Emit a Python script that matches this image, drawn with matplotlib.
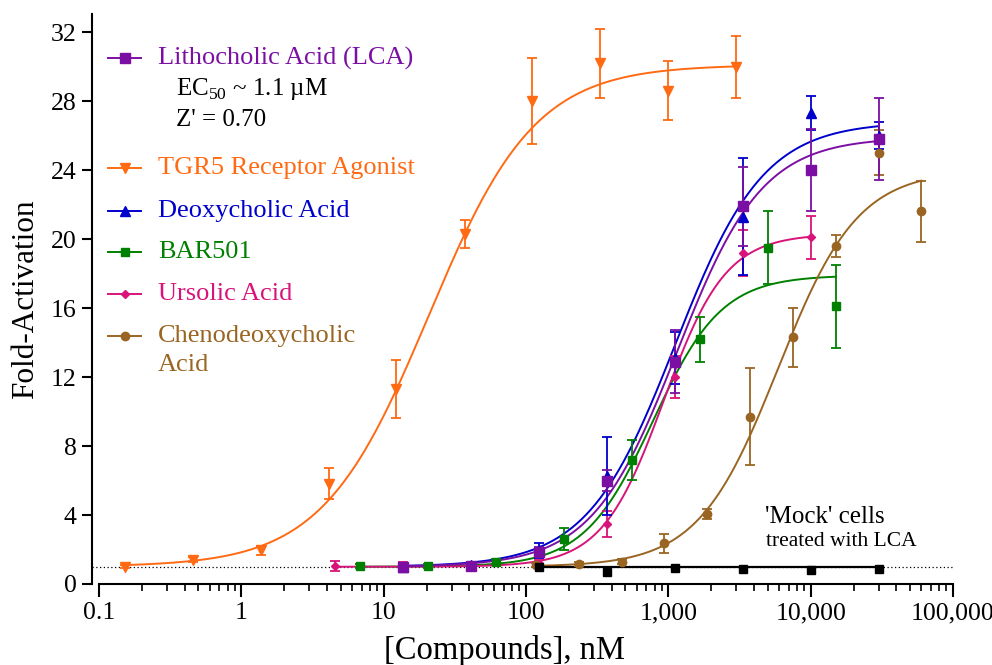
#!/usr/bin/env python3
"""Dose-response curves of bile acids and TGR5 agonists (fold activation vs concentration)."""

import numpy as np
import matplotlib
matplotlib.use('Agg')
import matplotlib.pyplot as plt
from matplotlib.lines import Line2D
from matplotlib.ticker import FixedLocator, NullFormatter

plt.rcParams['font.family'] = ['Liberation Serif', 'DejaVu Serif']
plt.rcParams['mathtext.fontset'] = 'custom'
plt.rcParams['mathtext.rm'] = 'Liberation Serif'

# ---- data ----
conc_tgr5 = [0.152, 0.457, 1.37, 4.12, 12.3, 37.0, 111, 333, 1000, 3000]
fa_tgr5 = [1.0, 1.4, 1.95, 5.8, 11.3, 20.3, 28.0, 30.2, 28.6, 30.0]
err_tgr5 = [0.1, 0.15, 0.25, 0.9, 1.7, 0.8, 2.5, 2.0, 1.7, 1.8]

conc_lca = [13.7, 41.2, 123, 370, 1111, 3333, 10000, 30000]
fa_lca = [1.0, 1.05, 1.85, 6.0, 12.9, 21.9, 24.0, 25.8]
err_lca = [0.15, 0.1, 0.3, 0.6, 1.8, 2.3, 2.4, 2.4]

conc_dca = [13.7, 41.2, 123, 370, 1111, 3333, 10000, 30000]
fa_dca = [1.0, 1.1, 1.95, 6.25, 13.1, 21.3, 27.3, 26.0]
err_dca = [0.1, 0.1, 0.45, 2.25, 1.5, 3.4, 1.0, 0.8]

conc_bar = [6.86, 20.6, 61.7, 185, 556, 1667, 5000, 15000]
fa_bar = [1.05, 1.05, 1.3, 2.6, 7.2, 14.2, 19.5, 16.1]
err_bar = [0.1, 0.1, 0.15, 0.65, 1.15, 1.3, 2.1, 2.4]

conc_urs = [4.57, 13.7, 41.2, 123, 370, 1111, 3333, 10000]
fa_urs = [1.05, 1.1, 1.0, 1.2, 3.5, 12.0, 19.2, 20.1]
err_urs = [0.3, 0.2, 0.1, 0.2, 0.75, 1.2, 1.35, 1.25]

conc_cdca = [117, 234, 469, 938, 1875, 3750, 7500, 15000, 30000, 60000]
fa_cdca = [1.1, 1.15, 1.3, 2.35, 4.05, 9.7, 14.3, 19.6, 25.0, 21.6]
err_cdca = [0.1, 0.1, 0.15, 0.55, 0.3, 2.8, 1.7, 0.65, 1.3, 1.75]

conc_mock = [123, 370, 1111, 3333, 10000, 30000]
fa_mock = [1.0, 0.7, 0.93, 0.87, 0.82, 0.87]
err_mock = [0.05, 0.05, 0.05, 0.12, 0.15, 0.05]
mock_level = 0.97

# four-parameter logistic fits (bottom, top, EC50 nM, Hill slope)
fit_tgr5 = (1.0, 30.1, 20.7, 1.16)
fit_lca = (1.0, 25.9, 1150, 1.45)
fit_dca = (1.0, 26.8, 1120, 1.40)
fit_bar = (1.0, 17.9, 780, 1.80)
fit_urs = (1.0, 20.3, 930, 2.00)
fit_cdca = (1.0, 24.0, 5900, 1.55)

colors = {
    'lca': '#7C0FA3',
    'tgr5': '#FF6A13',
    'dca': '#0000CC',
    'bar': '#008000',
    'urs': '#D8137A',
    'cdca': '#9A6522',
}


def hill(x, bottom, top, ec50, h):
    return bottom + (top - bottom) / (1 + (ec50 / x) ** h)


W, H = 992.0, 665.0
fig = plt.figure(figsize=(9.92, 6.65), dpi=100)
ax = fig.add_axes([92 / W, 81 / H, 861 / W, 570 / H])

# baseline at fold = 1
ax.axhline(1.0, color='black', lw=0.9, ls=(0, (1, 2)), zorder=1)

series = [
    ('tgr5', conc_tgr5, fa_tgr5, err_tgr5, fit_tgr5, 'v', 6.5),
    ('bar', conc_bar, fa_bar, err_bar, fit_bar, 's', 6),
    ('urs', conc_urs, fa_urs, err_urs, fit_urs, 'D', 4.5),
    ('cdca', conc_cdca, fa_cdca, err_cdca, fit_cdca, 'o', 6),
    ('dca', conc_dca, fa_dca, err_dca, fit_dca, '^', 6.5),
    ('lca', conc_lca, fa_lca, err_lca, fit_lca, 's', 6.5),
]

for key, xs, ys, es, fit, mk, ms in series:
    c = colors[key]
    xfit = np.logspace(np.log10(xs[0]), np.log10(xs[-1]), 300)
    ax.plot(xfit, hill(xfit, *fit), color=c, lw=1.4, zorder=3)
    ax.errorbar(xs, ys, yerr=es, fmt=mk, color=c, ms=ms, capsize=3.5,
                elinewidth=1.3, capthick=1.3, zorder=4)

# mock cells treated with LCA
ax.plot([conc_mock[0], conc_mock[-1]], [mock_level, mock_level], color='black', lw=1.6, zorder=3)
ax.errorbar(conc_mock, fa_mock, yerr=err_mock, fmt='s', color='black', ecolor=colors['lca'],
            ms=6, capsize=3, elinewidth=1.2, capthick=1.2, zorder=5)

ax.set_xscale('log')
ax.set_xlim(0.0893, 1e5)
ax.set_ylim(0, 33.05)

ax.spines['top'].set_visible(False)
ax.spines['right'].set_visible(False)
ax.spines['bottom'].set_bounds(0.1, 1e5)
ax.spines['left'].set_bounds(0, 33.05)
for s in ('left', 'bottom'):
    ax.spines[s].set_linewidth(1.5)

xticks = [0.1, 1, 10, 100, 1000, 10000, 100000]
xticklabels = ['0.1', '1', '10', '100', '1,000', '10,000', '100,000']
ax.set_xticks(xticks)
ax.set_xticklabels(xticklabels)
minors = [m * 10.0 ** d for d in range(-1, 5) for m in range(2, 10)]
ax.xaxis.set_minor_locator(FixedLocator(minors))
ax.xaxis.set_minor_formatter(NullFormatter())
ax.set_yticks(np.arange(0, 33, 4))

ax.tick_params(axis='x', which='major', length=9, width=1.5, labelsize=18.5, pad=4)
ax.tick_params(axis='x', which='minor', length=5, width=1.2)
ax.tick_params(axis='y', which='major', length=7, width=1.5, labelsize=18.5, pad=4)

fig.text(505 / W, 1 - 650 / H, '[Compounds], nM', fontsize=23.5, ha='center', va='center')
ax.set_ylabel('Fold-Activation', fontsize=22.5, labelpad=8)

# hand-drawn legend (top left)
legend_rows = [
    ('lca', 'Lithocholic Acid (LCA)', 's', 6.5, 58),
    ('tgr5', 'TGR5 Receptor Agonist', 'v', 6.5, 168),
    ('dca', 'Deoxycholic Acid', '^', 6.5, 211),
    ('bar', 'BAR501', 's', 6, 252),
    ('urs', 'Ursolic Acid', 'D', 4.5, 294),
    ('cdca', 'Chenodeoxycholic', 'o', 6, 336),
]
for key, label, mk, ms, ypix in legend_rows:
    c = colors[key]
    yf = 1 - ypix / H
    fig.add_artist(Line2D([108 / W, 141 / W], [yf, yf], color=c, lw=1.4,
                          transform=fig.transFigure))
    fig.add_artist(Line2D([124.5 / W], [yf], color=c, marker=mk, ms=ms,
                          transform=fig.transFigure))
    fig.text(158 / W, yf, label, color=c, fontsize=19, va='center', ha='left')
fig.text(158 / W, 1 - 365 / H, 'Acid', color=colors['cdca'], fontsize=19, va='center', ha='left')

fig.text(176 / W, 1 - 89 / H, r'EC$_{\mathregular{50}}$ ~ 1.1 µM', fontsize=18,
         va='center', ha='left', color='black')
fig.text(176 / W, 1 - 120 / H, "Z' = 0.70", fontsize=18, va='center', ha='left', color='black')

fig.text(765 / W, 1 - 517 / H, "'Mock' cells", fontsize=18, va='center', ha='left')
fig.text(766 / W, 1 - 542 / H, 'treated with LCA', fontsize=15.5, va='center', ha='left')

fig.savefig('out.png', dpi=100)
plt.close(fig)
